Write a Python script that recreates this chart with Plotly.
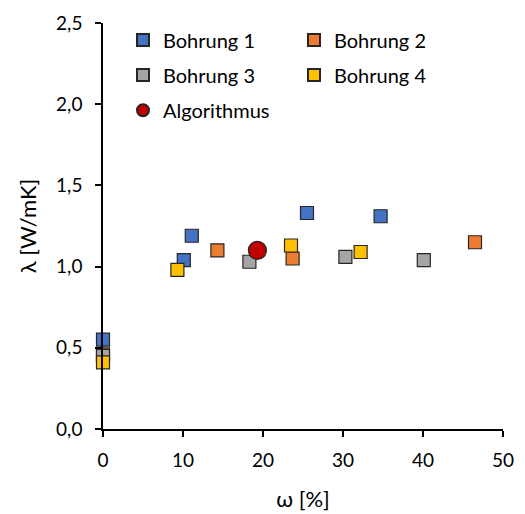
import plotly.graph_objects as go

b1_x = [0, 10.1, 11.1, 25.5, 34.7]
b1_y = [0.55, 1.04, 1.19, 1.33, 1.31]
b2_x = [0, 14.3, 23.7, 46.5]
b2_y = [0.46, 1.10, 1.05, 1.15]
b3_x = [0, 18.3, 30.3, 40.1]
b3_y = [0.45, 1.03, 1.06, 1.04]
b4_x = [0, 9.3, 23.5, 32.2]
b4_y = [0.41, 0.98, 1.13, 1.09]
alg_x = [19.3]
alg_y = [1.10]

series = [
    ("Bohrung 1", b1_x, b1_y, "#4472C4", "square", 13, "legend"),
    ("Bohrung 2", b2_x, b2_y, "#ED7D31", "square", 13, "legend"),
    ("Bohrung 3", b3_x, b3_y, "#A5A5A5", "square", 13, "legend2"),
    ("Bohrung 4", b4_x, b4_y, "#FFC000", "square", 13, "legend2"),
    ("Algorithmus", alg_x, alg_y, "#C00000", "circle", 18, "legend3"),
]

fig = go.Figure()
for name, x, y, color, sym, size, leg in series:
    fig.add_trace(go.Scatter(
        x=x, y=y, mode="markers", name=name, legend=leg, cliponaxis=False,
        marker=dict(color=color, symbol=sym, size=size,
                    line=dict(color="#262626", width=1.2)),
    ))

leg_common = dict(
    orientation="h", x=0.05, xanchor="left", yanchor="middle",
    entrywidth=126, entrywidthmode="pixels",
    font=dict(size=20, family="Lato, sans-serif"), bgcolor="rgba(0,0,0,0)",
    itemsizing="constant",
)

# page body has an 8px margin; figure is sized/offset to compensate
fig.update_layout(
    width=517, height=506,
    margin=dict(l=95, r=22, t=15, b=85),
    paper_bgcolor="white", plot_bgcolor="white",
    font=dict(family="Lato, sans-serif", size=19, color="black"),
    separators=", ",
    showlegend=True,
    legend=dict(leg_common, y=0.958),
    legend2=dict(leg_common, y=0.872),
    legend3=dict(leg_common, y=0.785),
    xaxis=dict(
        range=[0, 50], tickvals=[0, 10, 20, 30, 40, 50],
        showgrid=False, zeroline=False, automargin=False,
        showline=True, linecolor="black", linewidth=1.5,
        ticks="outside", ticklen=6, tickcolor="black", tickwidth=1.5,
        ticklabelstandoff=7,
        title=dict(text="ω [%]", font=dict(size=22), standoff=22),
    ),
    yaxis=dict(
        range=[0, 2.5], tickvals=[0, 0.5, 1.0, 1.5, 2.0, 2.5], tickformat=".1f",
        showgrid=False, zeroline=False, automargin=False,
        showline=True, linecolor="black", linewidth=1.5,
        ticks="outside", ticklen=6, tickcolor="black", tickwidth=1.5,
        ticklabelstandoff=9,
        title=dict(text="λ [W/mK]", font=dict(size=22), standoff=13),
    ),
)

fig.write_html("out.html")
